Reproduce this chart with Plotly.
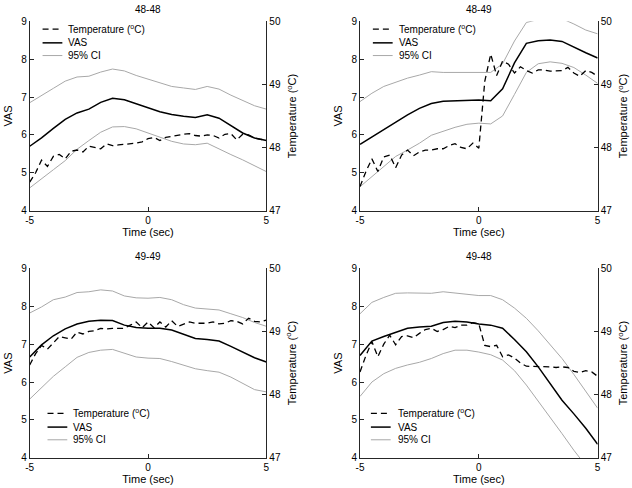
import plotly.graph_objects as go

W, H = 632, 488

# ---------------- data ----------------
time_vas = [-5.0, -4.5, -4.0, -3.5, -3.0, -2.5, -2.0, -1.5, -1.0, -0.5, 0.0,
            0.5, 1.0, 1.5, 2.0, 2.5, 3.0, 3.5, 4.0, 4.5, 5.0]
time_temp = [-5.0, -4.75, -4.5, -4.25, -4.0, -3.75, -3.5, -3.25, -3.0, -2.75, -2.5,
             -2.25, -2.0, -1.75, -1.5, -1.25, -1.0, -0.75, -0.5, -0.25, 0.0,
             0.25, 0.5, 0.75, 1.0, 1.25, 1.5, 1.75, 2.0, 2.25, 2.5,
             2.75, 3.0, 3.25, 3.5, 3.75, 4.0, 4.25, 4.5, 4.75, 5.0]

panel_titles = ["48-48", "48-49", "49-49", "49-48"]

# 48-48
vas_4848 = [5.70, 5.92, 6.17, 6.41, 6.58, 6.68, 6.86, 6.97, 6.93, 6.82, 6.71,
            6.61, 6.54, 6.49, 6.46, 6.53, 6.44, 6.24, 6.05, 5.92, 5.85]
ci_hi_4848 = [6.85, 7.05, 7.23, 7.42, 7.53, 7.55, 7.66, 7.74, 7.69, 7.57, 7.47,
              7.37, 7.28, 7.24, 7.20, 7.28, 7.21, 7.05, 6.90, 6.77, 6.68]
ci_lo_4848 = [4.60, 4.85, 5.08, 5.32, 5.62, 5.85, 6.07, 6.21, 6.22, 6.16, 6.05,
              5.93, 5.83, 5.76, 5.74, 5.78, 5.62, 5.48, 5.34, 5.18, 5.03]
temp_4848 = [47.45, 47.60, 47.80, 47.70, 47.86, 47.89, 47.82, 47.94, 47.96, 47.93, 48.02,
             48.00, 47.98, 48.06, 48.03, 48.04, 48.05, 48.05, 48.07, 48.09, 48.14,
             48.16, 48.11, 48.16, 48.18, 48.19, 48.21, 48.22, 48.19, 48.18, 48.20,
             48.19, 48.15, 48.21, 48.22, 48.12, 48.21, 48.20, 48.15, 48.13, 48.12]

# 48-49
vas_4849 = [5.75, 5.95, 6.15, 6.33, 6.53, 6.70, 6.83, 6.89, 6.90, 6.92, 6.92,
            6.90, 7.22, 7.90, 8.42, 8.49, 8.51, 8.47, 8.31, 8.17, 8.03]
ci_hi_4849 = [6.88, 7.10, 7.28, 7.40, 7.50, 7.58, 7.67, 7.65, 7.65, 7.66, 7.66,
              7.65, 7.88, 8.48, 8.97, 9.05, 9.09, 9.07, 8.93, 8.77, 8.67]
ci_lo_4849 = [4.63, 4.90, 5.18, 5.43, 5.60, 5.78, 5.99, 6.10, 6.20, 6.28, 6.31,
              6.29, 6.50, 7.07, 7.65, 7.88, 7.93, 7.89, 7.78, 7.58, 7.36]
temp_4849 = [47.38, 47.62, 47.82, 47.62, 47.85, 47.88, 47.68, 47.88, 47.96, 47.87, 47.93,
             47.96, 47.96, 47.98, 47.98, 48.03, 48.06, 48.00, 47.98, 48.07, 47.99,
             49.05, 49.48, 49.14, 49.37, 49.32, 49.18, 49.28, 49.22, 49.18, 49.23,
             49.23, 49.21, 49.22, 49.22, 49.27, 49.18, 49.13, 49.22, 49.19, 49.13]

# 49-49
vas_4949 = [6.66, 6.98, 7.22, 7.40, 7.53, 7.60, 7.63, 7.62, 7.50, 7.44, 7.42,
            7.42, 7.37, 7.25, 7.15, 7.12, 7.08, 6.94, 6.78, 6.64, 6.53]
ci_hi_4949 = [7.82, 7.98, 8.17, 8.24, 8.36, 8.38, 8.43, 8.40, 8.27, 8.22, 8.21,
              8.23, 8.17, 8.04, 7.95, 7.93, 7.90, 7.80, 7.70, 7.57, 7.47]
ci_lo_4949 = [5.55, 5.85, 6.15, 6.40, 6.65, 6.78, 6.84, 6.86, 6.75, 6.66, 6.63,
              6.62, 6.54, 6.44, 6.35, 6.30, 6.26, 6.13, 5.96, 5.80, 5.74]
temp_4949 = [48.47, 48.65, 48.78, 48.72, 48.82, 48.92, 48.90, 48.88, 48.99, 48.96, 49.00,
             49.01, 49.05, 49.04, 49.05, 49.05, 49.05, 49.10, 49.15, 49.06, 49.15,
             49.06, 49.15, 49.07, 49.17, 49.08, 49.12, 49.15, 49.13, 49.13, 49.13,
             49.15, 49.12, 49.13, 49.17, 49.16, 49.12, 49.21, 49.16, 49.15, 49.18]

# 49-48
vas_4948 = [6.70, 7.08, 7.20, 7.32, 7.42, 7.45, 7.47, 7.57, 7.60, 7.58, 7.53,
            7.50, 7.42, 7.12, 6.80, 6.40, 5.95, 5.52, 5.16, 4.78, 4.36]
ci_hi_4948 = [7.80, 8.10, 8.23, 8.34, 8.35, 8.34, 8.34, 8.38, 8.35, 8.31, 8.28,
              8.28, 8.17, 7.95, 7.68, 7.35, 6.98, 6.62, 6.20, 5.75, 5.31]
ci_lo_4948 = [5.62, 6.00, 6.22, 6.36, 6.45, 6.52, 6.62, 6.75, 6.84, 6.84, 6.79,
              6.72, 6.58, 6.30, 5.92, 5.50, 5.05, 4.64, 4.20, 3.80, 3.40]
temp_4948 = [48.36, 48.62, 48.84, 48.60, 48.80, 48.94, 48.79, 48.92, 48.93, 48.90, 48.97,
             49.03, 49.05, 49.00, 49.03, 49.08, 49.06, 49.10, 49.10, 49.14, 49.12,
             48.78, 48.76, 48.78, 48.60, 48.63, 48.58, 48.50, 48.45, 48.45, 48.45,
             48.44, 48.44, 48.43, 48.44, 48.43, 48.37, 48.35, 48.38, 48.36, 48.29]

vas_ticks = [4, 5, 6, 7, 8, 9]
temp_ticks = [47, 48, 49, 50]
time_ticks = [-5, 0, 5]

legend_labels = ["Temperature (<sup>o</sup>C)", "VAS", "95% CI"]

panels = [
    (vas_4848, ci_hi_4848, ci_lo_4848, temp_4848),
    (vas_4849, ci_hi_4849, ci_lo_4849, temp_4849),
    (vas_4949, ci_hi_4949, ci_lo_4949, temp_4949),
    (vas_4948, ci_hi_4948, ci_lo_4948, temp_4948),
]

# ---------------- layout geometry (pixels) ----------------
# (left, right, top, bottom)
boxes = [
    (26.0, 265.3, 15.7, 209.3),
    (360.0, 600.3, 15.7, 209.3),
    (26.0, 265.3, 268.3, 462.3),
    (360.0, 600.3, 268.3, 462.3),
]
# legend: sample x0, x1, text x (offset from left), row y offsets from top
legend_geo = [
    (13, 33, 37, [8.0, 22.0, 35.0]),
    (13, 33, 37, [8.0, 22.0, 35.0]),
    (18, 38, 42, [148.5, 162.5, 175.5]),
    (11, 31, 36, [148.5, 162.5, 175.5]),
]

FONT = "Liberation Sans, Arial, Helvetica, sans-serif"
AXC = "#262626"
GRAY = "#a8a8a8"
DASH = "6px,4px"


def px_x(p):
    return p / W


def px_y(p):
    return 1 - p / H


fig = go.Figure()
layout = dict(
    width=W, height=H,
    margin=dict(l=0, r=0, t=0, b=0),
    paper_bgcolor="white", plot_bgcolor="white",
    font=dict(family=FONT, size=10, color="black"),
    showlegend=False,
)
shapes = []
annotations = []

for i, ((vas, hi, lo, temp), (L, R, T, B), title) in enumerate(zip(panels, boxes, panel_titles)):
    n = i + 1
    xs = "x" if n == 1 else f"x{n}"
    ys = "y" if n == 1 else f"y{n}"
    yt = f"y{n + 4}"
    xkey = "xaxis" if n == 1 else f"xaxis{n}"
    ykey = "yaxis" if n == 1 else f"yaxis{n}"
    ytkey = f"yaxis{n + 4}"

    fig.add_trace(go.Scatter(x=time_vas, y=hi, mode="lines", xaxis=xs, yaxis=ys,
                             line=dict(color=GRAY, width=1), name="95% CI"))
    fig.add_trace(go.Scatter(x=time_vas, y=lo, mode="lines", xaxis=xs, yaxis=ys,
                             line=dict(color=GRAY, width=1), name="95% CI"))
    fig.add_trace(go.Scatter(x=time_vas, y=vas, mode="lines", xaxis=xs, yaxis=ys,
                             line=dict(color="black", width=1.5), name="VAS"))
    fig.add_trace(go.Scatter(x=time_temp, y=temp, mode="lines", xaxis=xs, yaxis=yt,
                             line=dict(color="black", width=1.3, dash=DASH),
                             name="Temperature"))

    common = dict(showgrid=False, zeroline=False, showline=True, linecolor=AXC,
                  linewidth=1, ticks="inside", ticklen=4, tickcolor=AXC,
                  tickfont=dict(family=FONT, size=10, color="black"))
    layout[xkey] = dict(common, domain=[px_x(L), px_x(R)], anchor=ys, range=[-5, 5],
                        tickmode="array", tickvals=time_ticks,
                        ticktext=[str(v) for v in time_ticks],
                        title=dict(text="Time (sec)", font=dict(size=11), standoff=1))
    layout[ykey] = dict(common, domain=[px_y(B), px_y(T)], anchor=xs, range=[4, 9],
                        tickmode="array", tickvals=vas_ticks,
                        title=dict(text="VAS", font=dict(size=11), standoff=6))
    layout[ytkey] = dict(common, overlaying=ys, side="right", anchor=xs, range=[47, 50],
                         tickmode="array", tickvals=temp_ticks,
                         title=dict(text="Temperature (<sup>o</sup>C)",
                                    font=dict(size=11), standoff=8))

    # panel title
    annotations.append(dict(text=title, x=px_x((L + R) / 2), y=px_y(T - 12.5),
                            xref="paper", yref="paper", xanchor="center",
                            yanchor="middle", showarrow=False,
                            font=dict(size=10, color="black")))

    # manual legend (matches original compact legend box)
    sx0, sx1, tx, rows = legend_geo[i]
    styles = [dict(color="black", width=1.3, dash=DASH),
              dict(color="black", width=1.5),
              dict(color=GRAY, width=1)]
    for lab, st, ry in zip(legend_labels, styles, rows):
        shapes.append(dict(type="line", xref="paper", yref="paper",
                           x0=px_x(L + sx0), x1=px_x(L + sx1),
                           y0=px_y(T + ry), y1=px_y(T + ry), line=st))
        annotations.append(dict(text=lab, x=px_x(L + tx), y=px_y(T + ry),
                                xref="paper", yref="paper", xanchor="left",
                                yanchor="middle", showarrow=False,
                                font=dict(size=10, color="black")))

layout["shapes"] = shapes
layout["annotations"] = annotations
fig.update_layout(**layout)
fig.write_html("out.html",
               config={"displayModeBar": False},
               post_script="document.body.style.margin='0';"
                           "document.body.style.overflow='hidden';")
